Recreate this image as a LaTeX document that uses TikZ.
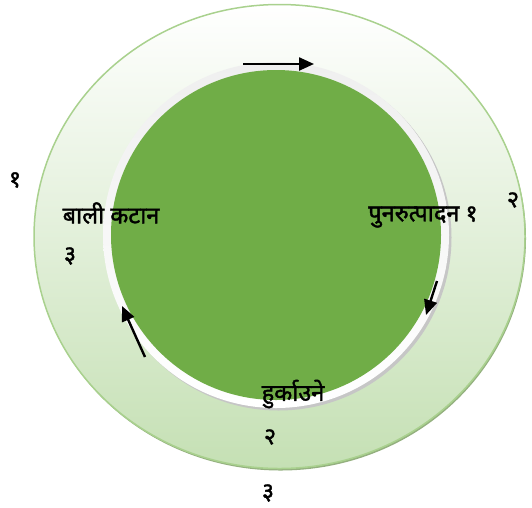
\documentclass[tikz,border=0pt]{standalone}
\usepackage{fontspec}
\newfontfamily\dev[Script=Devanagari, FakeBold=1.6]{Noto Sans}
\usetikzlibrary{arrows.meta}
\definecolor{ringborder}{HTML}{A9D18E}
\definecolor{ringbottom}{HTML}{C5E0B4}
\definecolor{ringshadow}{HTML}{94B07F}
\definecolor{leaf}{HTML}{70AD47}
\definecolor{pale}{HTML}{EFEFEF}
\begin{document}
\begin{tikzpicture}[x=1pt,y=-1pt,
  lbl/.style={font=\dev\fontsize{23.5}{27}\selectfont, inner sep=0pt, text=black},
  flow/.style={line width=2.4pt, -{Triangle[length=15pt,width=13pt]}}]
\useasboundingbox (0,0) rectangle (532,507);
% outer ring
\fill[ringshadow] (280.5,238.5) ellipse [x radius=245.5, y radius=232];
\shade[top color=white, bottom color=ringbottom, draw=ringborder, line width=1.5pt]
  (279.5,236.5) ellipse [x radius=245.5, y radius=232];
% inner white ring with shadow
\fill[gray!45] (278.5,237.5) circle [radius=173];
\shade[top color=pale, bottom color=white] (276,235) circle [radius=173];
% green disc
\fill[leaf] (276,235) circle [radius=165];
% arrows
\coordinate (t1) at (243,64);
\coordinate (t2) at (314,64);
\coordinate (r1) at (437,281);
\coordinate (r2) at (426,315);
\coordinate (l1) at (145,357);
\coordinate (l2) at (122,306);
\draw[flow] (t1) -- (t2);
\draw[flow] (r1) -- (r2);
\draw[flow] (l1) -- (l2);
% labels
\node[lbl] (n1) at (15,180) {१};
\node[lbl] (n2) at (513,200) {२};
\node[lbl] (n3) at (268,493) {३};
\node[lbl] (a) at (111,213) {बाली कटान};
\node[lbl] (a3) at (70,256) {३};
\node[lbl] (b) at (423,217) {पुनरुत्पादन १};
\node[lbl] (c) at (293,394) {हुर्काउने};
\node[lbl] (c2) at (270,437) {२};
\end{tikzpicture}
\end{document}
